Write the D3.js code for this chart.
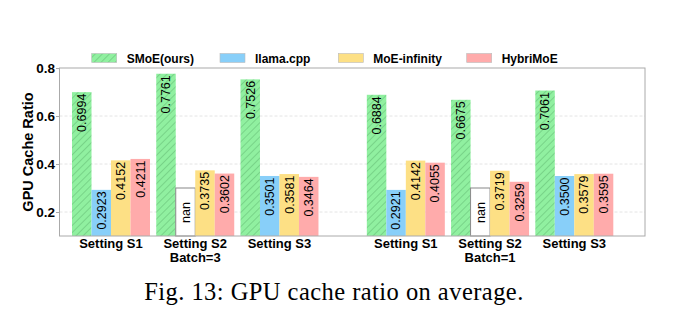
<!DOCTYPE html>
<html>
<head>
<meta charset="utf-8">
<script src="https://cdn.jsdelivr.net/npm/d3@7"></script>
<style>
  body { margin: 0; background: #fff; }
  svg text { font-family: "Liberation Sans", Arial, sans-serif; }
</style>
</head>
<body>
<svg id="chart" width="674" height="324"></svg>
<script>
// groups (two halves: batch=3 and batch=1)
var settings = ["Setting S1", "Setting S2", "Setting S3", "Setting S1", "Setting S2", "Setting S3"];
var batchLabels = ["Batch=3", "Batch=1"];
var seriesNames = ["SMoE(ours)", "llama.cpp", "MoE-infinity", "HybriMoE"];
var smoe = [0.6994, 0.7761, 0.7526, 0.6884, 0.6675, 0.7061];
var llama = [0.2923, null, 0.3501, 0.2921, null, 0.3500];
var moeInf = [0.4152, 0.3735, 0.3581, 0.4142, 0.3719, 0.3579];
var hybri = [0.4211, 0.3602, 0.3464, 0.4055, 0.3259, 0.3595];
var yTicks = [0.2, 0.4, 0.6, 0.8];
var nanPlaceholder = 0.3;
var colors = ["#90f0a0", "#88cff9", "#fde085", "#ffabab"];

var series = [smoe, llama, moeInf, hybri];

var svg = d3.select("#chart");
var plotL = 59.5, plotR = 645, plotT = 68, plotB = 236;

// group slot positions: second half shifted by half a group
var slot = settings.map(function(d, i) { return i + (i >= 3 ? 0.5 : 0); });
var x = d3.scaleLinear().domain([0, 5.5]).range([72, 535.3]);
var barW = 19.5;
var y = d3.scaleLinear().domain([0.1, 0.8]).range([plotB, plotT]);

// hatch pattern
var defs = svg.append("defs");
var pat = defs.append("pattern")
  .attr("id", "hatch")
  .attr("patternUnits", "userSpaceOnUse")
  .attr("width", 5).attr("height", 5)
  .attr("patternTransform", "rotate(45)");
pat.append("rect").attr("width", 5).attr("height", 5).attr("fill", colors[0]);
pat.append("line").attr("x1", 0).attr("y1", 0).attr("x2", 0).attr("y2", 5)
  .attr("stroke", "#4a9e5a").attr("stroke-width", 0.7);

// grid
svg.append("g").selectAll("line")
  .data(yTicks.slice(0, 3))
  .enter().append("line")
  .attr("x1", plotL).attr("x2", plotR)
  .attr("y1", function(d) { return y(d); }).attr("y2", function(d) { return y(d); })
  .attr("stroke", "#dddddd").attr("stroke-width", 0.8)
  .attr("stroke-dasharray", "3,2");

// bars
series.forEach(function(vals, s) {
  var g = svg.append("g");
  vals.forEach(function(v, i) {
    var bx = x(slot[i]) + s * barW;
    if (v === null) {
      g.append("rect")
        .attr("x", bx).attr("y", y(nanPlaceholder))
        .attr("width", barW).attr("height", y(0.1) - y(nanPlaceholder))
        .attr("fill", "#fff").attr("stroke", "#888").attr("stroke-width", 1);
      g.append("text")
        .attr("transform", "translate(" + (bx + barW / 2) + "," + (y(0.1) - 13) + ") rotate(-90)")
        .attr("dy", "0.35em")
        .attr("font-size", 12.5)
        .text("nan");
    } else {
      g.append("rect")
        .attr("x", bx).attr("y", y(v))
        .attr("width", barW).attr("height", y(0.1) - y(v))
        .attr("fill", s === 0 ? "url(#hatch)" : colors[s]);
      g.append("text")
        .attr("transform", "translate(" + (bx + barW / 2) + "," + (y(v) + 1.5) + ") rotate(-90)")
        .attr("dy", "0.35em")
        .attr("text-anchor", "end")
        .attr("font-size", 12.5)
        .text(v.toFixed(4));
    }
  });
});

// frame
svg.append("rect")
  .attr("x", plotL).attr("y", plotT)
  .attr("width", plotR - plotL).attr("height", plotB - plotT)
  .attr("fill", "none").attr("stroke", "#aaaaaa").attr("stroke-width", 1);

// y axis
var yAxis = d3.axisLeft(y).tickValues(yTicks).tickFormat(d3.format(".1f")).tickSize(3.5).tickPadding(1);
var ya = svg.append("g").attr("transform", "translate(" + plotL + ",0)").call(yAxis);
ya.select(".domain").remove();
ya.selectAll("line").attr("stroke", "#aaaaaa");
ya.selectAll("text").attr("font-size", 13.5).attr("font-weight", "bold")
  .attr("font-family", "Liberation Sans, Arial, sans-serif").attr("fill", "#000");

svg.append("text")
  .attr("transform", "translate(27.5," + ((plotT + plotB) / 2) + ") rotate(-90)")
  .attr("text-anchor", "middle").attr("dy", "0.35em")
  .attr("font-size", 14.5).attr("font-weight", "bold")
  .text("GPU Cache Ratio");

// x labels
svg.append("g").selectAll("text")
  .data(settings)
  .enter().append("text")
  .attr("x", function(d, i) { return x(slot[i]) + 2 * barW; })
  .attr("y", 248)
  .attr("text-anchor", "middle")
  .attr("font-size", 13).attr("font-weight", "bold")
  .text(function(d) { return d; });

svg.append("g").selectAll("text")
  .data(batchLabels)
  .enter().append("text")
  .attr("x", function(d, i) { return x(slot[1 + i * 3]) + 2 * barW; })
  .attr("y", 262)
  .attr("text-anchor", "middle")
  .attr("font-size", 13).attr("font-weight", "bold")
  .text(function(d) { return d; });

// legend
var legendX = [91.7, 220, 338.3, 466.7];
var lg = svg.append("g");
seriesNames.forEach(function(name, s) {
  lg.append("rect")
    .attr("x", legendX[s]).attr("y", 53.5)
    .attr("width", 25).attr("height", 9)
    .attr("fill", s === 0 ? "url(#hatch)" : colors[s])
    .attr("stroke", "#bbbbbb").attr("stroke-width", 0.6);
  lg.append("text")
    .attr("x", legendX[s] + 35).attr("y", 62.5)
    .attr("font-size", 12).attr("font-weight", "bold")
    .text(name);
});

// caption
svg.append("text")
  .attr("x", 334).attr("y", 300)
  .attr("text-anchor", "middle")
  .style("font-family", "'Liberation Serif', 'Times New Roman', serif")
  .attr("font-size", 24.5)
  .attr("letter-spacing", 0.45)
  .text("Fig. 13: GPU cache ratio on average.");
</script>
</body>
</html>
